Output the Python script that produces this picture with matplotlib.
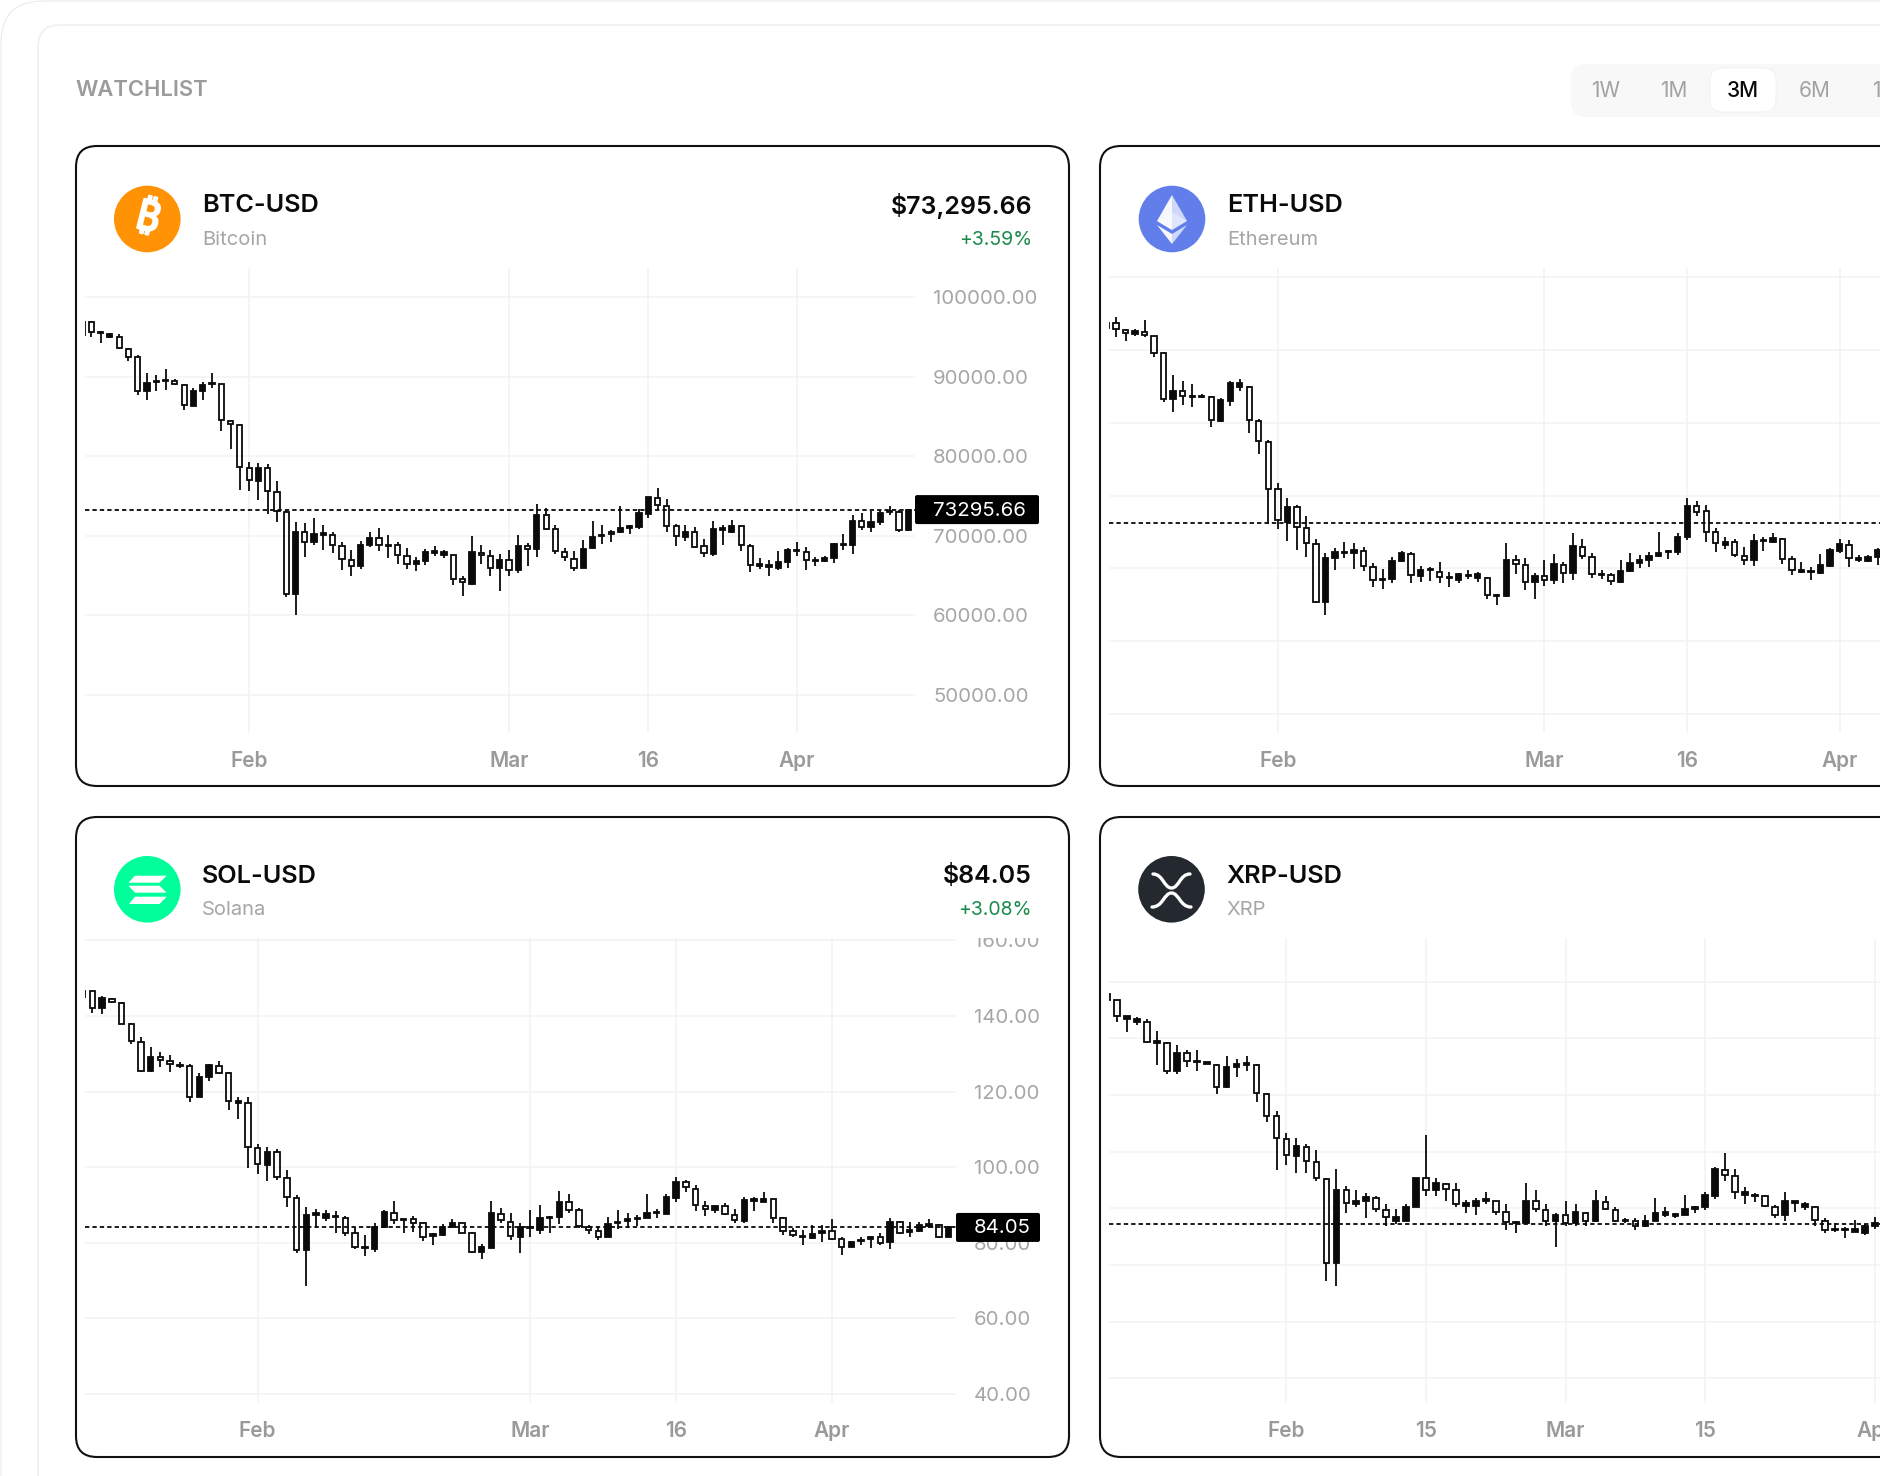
"""Crypto watchlist dashboard with four candlestick cards"""

import numpy as np
import matplotlib
matplotlib.use("Agg")
import matplotlib.pyplot as plt
import matplotlib.patheffects as pe
from matplotlib.patches import Circle, FancyBboxPatch, PathPatch, Polygon
from matplotlib.path import Path
from matplotlib.transforms import Bbox

plt.rcParams['font.family'] = ['Inter', 'DejaVu Sans']

W, H = 1880, 1476

# BTC-USD daily candles
btc_open = [96940,96860,95475,95056,95056,93506,92500,88226,89358,89441,89483,89022,86383,88226,89064,89106,84455,83994,78547,76955,
            78547,75531,72975,62709,70419,69162,70125,70084,68701,66941,66145,68785,69706,68743,68868,67402,66480,66857,67863,67527,
            67527,64553,63882,67863,67402,65894,66983,65726,68701,68282,72598,70796,67947,67109,65936,68408,69916,70209,70461,71005,
            71089,72765,74693,73729,71173,69874,70461,68659,67737,70712,70461,71257,68701,66187,66061,65894,66648,68030,67989,66773,
            66857,67234,68785,68827,71802,71047,71718,72975,72975,70670]
btc_high = [96942,97025,95768,95559,95433,93590,92710,90447,90238,90992,89693,89148,88645,89400,90447,89148,84497,84036,79260,79176,
            79092,76871,73268,71676,71592,72220,71383,70461,69162,68240,69287,70461,70963,70042,69204,68408,67276,68324,68659,68156,
            67612,64972,69916,68868,68156,67695,68156,70042,69078,73981,73478,71299,68450,68030,69500,71800,71300,70750,73810,71300,
            73350,74860,75990,74650,71510,71340,71050,69580,71800,71300,72010,71340,68990,67190,66940,68030,68450,69160,68530,67320,
            67400,69080,70250,72640,72850,73060,73270,73690,73270,73400]
btc_low = [95265,95056,94218,94930,93548,91997,87682,87137,88268,88394,88980,85838,86341,87137,88645,83198,80978,75782,75656,74483,
           72765,71718,62332,59986,67318,68785,68240,67863,65642,64972,65810,68575,68030,67192,66480,65810,65516,66354,67402,67151,
           63798,62458,63840,66480,64888,63002,64972,65265,66145,67318,70670,67696,66860,65560,65890,68360,68950,69200,70330,70170,
           70840,72180,73270,70460,68700,69290,68450,67320,67400,68830,70330,68030,65430,65850,64890,65730,65940,67400,65680,66140,
           66730,66520,68240,67700,70670,70420,71380,72640,70500,70630]
btc_close = [95265,95601,95601,95433,93590,92542,88226,89274,89525,89609,89064,86508,88184,89022,89232,84539,84120,78631,77039,78589,
             75614,73142,62667,70419,69246,70209,70293,68785,67025,66187,68827,69706,68785,68868,67527,66438,66857,67905,68030,67905,
             64595,64134,67905,67527,65894,66983,65726,68701,68324,72640,70880,68072,67276,65936,68366,69874,70084,70503,70922,71173,
             72807,74818,73855,71173,69916,70461,68575,67779,70838,70922,71257,68785,66355,66396,66355,66648,68156,68198,66941,66983,
             67234,68994,68953,71843,71089,71760,72891,73142,70712,73295.66]

# ETH-USD daily candles, last candles run off the canvas
eth_open = [3683,3683,3637,3610,3626,3596,3477,3161,3216,3179,3179,3179,3012,3149,3246,3248,3014,2868,2543,2321,
            2424,2277,2170,1767,2069,2103,2103,2122,2012,1923,1925,2051,2101,1948,1987,1977,1934,1920,1950,1932,
            1936,1808,1810,2055,2025,1904,1947,1918,2025,1970,2149,2080,1957,1954,1909,1982,2034,2057,2082,2112,
            2115,2213,2430,2394,2247,2163,2179,2087,2055,2188,2183,2204,2064,1977,1973,1966,2018,2117,2160,2060,
            2053,2078]
eth_high = [3683,3724,3642,3642,3706,3598,3488,3328,3287,3264,3198,3184,3168,3287,3298,3255,3024,2882,2586,2483,
            2438,2360,2204,2103,2138,2179,2174,2145,2035,1993,2076,2122,2115,2016,2007,2042,1977,1971,1989,1973,
            1943,1824,2172,2094,2069,1966,2057,2096,2046,2243,2199,2108,1989,1966,2057,2103,2094,2110,2250,2124,
            2245,2481,2465,2433,2279,2213,2204,2144,2236,2213,2245,2206,2085,2041,2012,2096,2140,2199,2195,2094,
            2094,2137]
eth_low = [3648,3591,3559,3596,3591,3449,3145,3076,3120,3108,3168,2973,3008,3113,3218,2932,2785,2305,2270,2188,
           2126,2080,1765,1678,1987,2074,1998,1980,1874,1858,1897,2044,1902,1909,1916,1897,1872,1897,1929,1909,
           1790,1746,1801,1963,1854,1789,1879,1892,1902,1922,2066,1936,1925,1886,1902,1977,2000,2012,2080,2066,
           2094,2195,2362,2183,2112,2135,2080,2023,2016,2119,2176,2032,1954,1966,1918,1961,2007,2103,2012,2044,
           2046,2021]
eth_close = [3648,3644,3614,3630,3600,3477,3161,3218,3181,3186,3186,3019,3154,3271,3271,3019,2872,2547,2335,2424,
             2284,2174,1769,2069,2110,2115,2129,2014,1920,1929,2051,2103,1952,1989,1993,1941,1943,1959,1957,1961,
             1815,1815,2060,2028,1908,1950,1922,2028,1970,2153,2085,1963,1963,1915,1979,2039,2057,2085,2108,2121,
             2213,2430,2389,2252,2172,2181,2089,2060,2185,2197,2206,2066,1986,1986,1982,2021,2124,2167,2069,2069,
             2078,2126]

# SOL-USD daily candles
sol_open = [146.6,146.6,142.0,144.6,143.5,137.9,133.2,125.4,129.1,128.0,126.8,126.8,118.5,123.9,126.8,124.8,117.1,117.0,105.1,100.7,
            104.1,97.2,91.9,78.1,87.4,86.6,86.7,86.5,82.7,78.6,78.3,84.2,87.9,86.0,86.3,85.1,81.8,82.0,84.2,85.1,
            82.7,77.6,78.7,87.7,85.5,81.6,83.8,83.5,86.55,86.9,90.7,88.65,84.2,83.0,81.5,85.15,85.8,86.2,86.55,87.95,
            87.7,91.9,96.0,94.25,89.7,88.7,89.8,87.3,85.7,91.1,90.75,91.45,86.5,83.0,81.5,81.3,82.6,83.05,81.05,79.0,
            80.4,81.05,81.55,80.1,85.4,82.8,83.1,84.55,84.6,81.5]
sol_high = [146.6,146.7,145.3,144.7,143.8,138.1,134.4,131.9,130.4,129.7,127.7,127.2,124.8,127.3,128.0,125.2,118.6,118.5,106.1,105.4,
            104.7,99.3,92.7,89.4,88.8,88.7,88.3,87.1,84.2,82.0,85.3,88.7,91.1,86.4,87.1,85.6,82.5,84.9,86.4,85.3,
            82.8,79.6,91.1,89.1,87.9,85.2,88.6,89.9,87.2,93.7,92.8,89.1,84.7,84.3,86.9,88.6,87.8,87.3,92.8,88.8,
            93.0,97.3,96.7,95.4,91.0,90.0,90.6,88.8,92.0,92.0,93.3,91.7,86.9,84.0,83.4,84.7,84.6,86.2,81.5,80.4,
            81.5,81.8,82.5,86.6,85.8,85.6,85.6,86.2,85.0,84.3]
sol_low = [145.1,140.8,140.4,143.5,137.9,132.7,125.3,125.3,126.6,125.1,126.3,117.2,118.5,122.9,124.6,115.1,112.7,99.8,98.3,96.3,
           96.5,89.4,77.4,68.5,84.0,85.8,82.6,81.8,78.4,76.6,77.5,84.0,84.9,82.5,82.9,80.4,79.5,81.7,84.0,82.5,
           77.2,75.8,78.5,85.3,80.8,77.3,81.6,82.3,82.7,85.0,87.8,83.8,82.3,80.6,81.4,83.6,84.0,84.5,86.5,86.5,
           87.5,90.8,93.3,88.5,87.1,88.0,87.3,85.2,85.1,88.3,90.7,85.3,82.0,81.6,79.5,81.1,80.1,80.8,76.7,78.9,
           79.3,78.5,79.5,78.3,82.3,81.5,82.9,83.8,81.3,81.4]
sol_close = [145.1,142.2,144.7,143.6,138.0,133.3,125.4,129.1,128.3,127.2,127.1,118.6,123.9,126.9,125.0,117.5,117.4,105.3,100.9,104.1,
             97.3,92.1,78.1,87.3,87.8,87.7,87.1,82.7,79.0,79.0,84.2,88.1,85.9,86.4,85.1,81.6,82.2,84.2,85.1,82.7,
             77.5,78.8,87.8,85.9,81.7,84.2,84.2,86.5,86.9,90.75,88.65,84.4,83.3,81.6,84.9,85.6,86.2,86.5,88.0,88.2,
             92.0,96.2,94.7,90.1,88.9,89.7,87.5,85.9,91.4,91.45,91.45,86.55,83.2,82.0,81.9,82.3,83.0,81.1,79.0,80.25,
             80.8,81.65,80.0,85.4,82.5,83.4,84.6,84.9,81.5,84.05]

# XRP-USD daily candles, last candles run off the canvas
xrp_open = [2.155,2.134,2.067,2.057,2.057,1.985,1.985,1.884,1.947,1.915,1.909,1.907,1.827,1.898,1.906,1.907,1.805,1.725,1.646,1.586,
            1.618,1.565,1.505,1.208,1.464,1.414,1.425,1.435,1.395,1.356,1.356,1.406,1.506,1.465,1.486,1.464,1.409,1.408,1.425,1.425,
            1.386,1.347,1.348,1.425,1.394,1.357,1.375,1.347,1.385,1.355,1.424,1.395,1.355,1.357,1.338,1.357,1.377,1.373,1.377,1.397,
            1.405,1.444,1.535,1.515,1.447,1.442,1.444,1.404,1.375,1.418,1.404,1.405,1.357,1.325,1.324,1.317,1.313,1.339]
xrp_high = [2.155,2.135,2.079,2.076,2.067,2.026,1.986,1.977,1.957,1.958,1.916,1.909,1.938,1.928,1.938,1.909,1.806,1.745,1.667,1.647,
            1.627,1.606,1.506,1.538,1.479,1.465,1.455,1.444,1.415,1.396,1.415,1.507,1.658,1.507,1.491,1.488,1.429,1.435,1.458,1.427,
            1.415,1.356,1.488,1.465,1.415,1.385,1.427,1.415,1.386,1.465,1.444,1.406,1.366,1.365,1.378,1.435,1.406,1.385,1.446,1.407,
            1.456,1.547,1.597,1.538,1.476,1.455,1.446,1.411,1.458,1.426,1.424,1.407,1.367,1.349,1.335,1.359,1.344,1.368]
xrp_low = [2.135,2.057,2.024,2.047,1.985,1.907,1.873,1.873,1.897,1.885,1.908,1.805,1.826,1.865,1.885,1.776,1.705,1.535,1.553,1.526,
           1.526,1.497,1.145,1.126,1.385,1.404,1.366,1.386,1.338,1.344,1.354,1.405,1.445,1.445,1.425,1.406,1.385,1.375,1.415,1.376,
           1.324,1.314,1.345,1.386,1.336,1.265,1.338,1.338,1.338,1.353,1.394,1.353,1.347,1.325,1.335,1.354,1.368,1.366,1.375,1.385,
           1.395,1.434,1.497,1.434,1.415,1.424,1.406,1.367,1.357,1.386,1.394,1.338,1.314,1.316,1.294,1.315,1.305,1.328]
xrp_close = [2.135,2.079,2.078,2.067,1.987,1.989,1.886,1.947,1.919,1.920,1.916,1.828,1.898,1.908,1.912,1.808,1.726,1.649,1.587,1.619,
             1.567,1.508,1.208,1.465,1.418,1.427,1.439,1.396,1.368,1.368,1.406,1.506,1.466,1.491,1.467,1.415,1.420,1.426,1.432,1.386,
             1.351,1.351,1.426,1.397,1.357,1.377,1.349,1.386,1.357,1.426,1.399,1.357,1.360,1.339,1.357,1.385,1.387,1.380,1.397,1.405,
             1.446,1.538,1.518,1.457,1.457,1.447,1.407,1.377,1.427,1.425,1.415,1.359,1.325,1.328,1.327,1.326,1.336,1.347]

# Last prices for the dashed line
btc_last = 73295.66
eth_last = 2310
sol_last = 84.05
xrp_last = 1.346

# Axis ticks
btc_yticks = [100000, 90000, 80000, 70000, 60000, 50000]
eth_yticks = [4000, 3500, 3000, 2500, 2000, 1500, 1000]
sol_yticks = [160, 140, 120, 100, 80, 60, 40]
xrp_yticks = [2.2, 2.0, 1.8, 1.6, 1.4, 1.2, 1.0, 0.8]
month_ticks = [18, 46, 61, 77]
month_labels = ["Feb", "Mar", "16", "Apr"]
xrp_ticks = [18, 32, 46, 60, 77]
xrp_labels = ["Feb", "15", "Mar", "15", "Apr"]

range_labels = ["1W", "1M", "3M", "6M", "1Y"]

BLACK = "#0a0a0a"
GREY = "#a6a6a6"
GRID = "#f3f3f3"

fig = plt.figure(figsize=(W / 100, H / 100), dpi=100, facecolor="white")

# Pixel space axes behind and above the charts
back = fig.add_axes([0, 0, 1, 1], zorder=0)
back.set_xlim(0, W)
back.set_ylim(H, 0)
back.axis("off")
front = fig.add_axes([0, 0, 1, 1], zorder=2)
front.set_xlim(0, W)
front.set_ylim(H, 0)
front.axis("off")


def round_box(ax, x0, y0, x1, y1, r, **kw):
    box = FancyBboxPatch((x0 + r, y0 + r), x1 - x0 - 2 * r, y1 - y0 - 2 * r,
                         boxstyle=f"round,pad={r},rounding_size={r}", **kw)
    ax.add_patch(box)
    return box


def add_chart(left, right, top, bottom, xlim, ylim, yticks, xticks, xlabels, fmt, opens, highs, lows, closes, last):
    ax = fig.add_axes([left / W, 1 - bottom / H, (right - left) / W, (bottom - top) / H], zorder=1)
    ax.patch.set_alpha(0)
    for spine in ax.spines.values():
        spine.set_visible(False)
    ax.set_xlim(*xlim)
    ax.set_ylim(*ylim)
    ax.grid(True, color=GRID, linewidth=1.1)
    ax.set_axisbelow(True)

    ax.set_yticks(yticks)
    ax.yaxis.tick_right()
    if fmt:
        ax.set_yticklabels([fmt.format(v) for v in yticks])
    else:
        ax.tick_params(axis="y", labelright=False)
    ax.tick_params(axis="y", length=0, pad=13, labelsize=14.7, labelcolor=GREY)
    ax.set_xticks(xticks)
    ax.set_xticklabels(xlabels, fontweight="semibold")
    ax.tick_params(axis="x", length=0, pad=13, labelsize=15, labelcolor="#9a9a9a")
    # the top label is cut by the edge of the pane
    for label in ax.get_yticklabels():
        label.set_clip_box(Bbox.from_extents(0, 0, W, H - top))
        label.set_clip_on(True)

    ax.axhline(last, color=BLACK, linewidth=1.3, linestyle=(0, (2.4, 1.7)), zorder=1.5)

    opens, highs, lows, closes = map(np.asarray, (opens, highs, lows, closes))
    x = np.arange(len(opens))
    body_top = np.maximum(opens, closes)
    body_bot = np.minimum(opens, closes)
    ax.vlines(x, body_top, highs, color=BLACK, linewidth=1.3, zorder=3)
    ax.vlines(x, lows, body_bot, color=BLACK, linewidth=1.3, zorder=3)
    colors = [BLACK if c >= o else "none" for o, c in zip(opens, closes)]
    ax.bar(x, body_top - body_bot, bottom=body_bot, width=0.56, color=colors,
           edgecolor=BLACK, linewidth=1.3, zorder=3)
    return ax


# Outer frames
round_box(back, 1, 1, W + 80, H + 80, 42, facecolor="white", edgecolor="#e4e4e4", linewidth=0.6)
round_box(back, 38, 25, W + 60, H + 60, 22, facecolor="white", edgecolor="#f1f1f1", linewidth=1.4)
back.text(75.5, 90.5, "WATCHLIST", color="#9b9b9b", fontsize=15.8, fontweight="semibold", va="center", ha="left")

# Range selector
round_box(back, 1571, 64, W + 40, 117, 14, facecolor="#f8f8f8", edgecolor="none")
round_box(back, 1710, 68, 1776, 112, 13, facecolor="white", edgecolor="#f0f0f0", linewidth=0.6)
for label, cx in zip(range_labels, [1605.5, 1674, 1743, 1815, 1883]):
    back.text(cx, 91, label, fontsize=15, ha="center", va="center",
              color=BLACK if label == "3M" else "#a2a2a2", fontweight="medium" if label == "3M" else "normal")

# Cards
for x0, x1, y0, y1 in [(76, 1069, 146, 786), (1100, W + 60, 146, 786), (76, 1069, 817, 1457), (1100, W + 60, 817, 1457)]:
    round_box(back, x0, y0, x1, y1, 21, facecolor="white", edgecolor="#111111", linewidth=1.5)


def header(cx, cy, color, name, full, price=None, change=None):
    back.add_patch(Circle((cx, cy), 33.3, facecolor=color, edgecolor="none"))
    back.text(cx + 55, cy - 13, name, fontsize=18.2, fontweight="semibold", color=BLACK, va="center", ha="left")
    back.text(cx + 55, cy + 21, full, fontsize=14.5, color=GREY, va="center", ha="left")
    if price:
        back.text(1032, cy - 13, price, fontsize=18, fontweight="semibold", color=BLACK, va="center", ha="right")
        back.text(1032, cy + 21, change, fontsize=14, color="#1a8a4c", va="center", ha="right")


header(147.3, 219, "#ff9205", "BTC-USD", "Bitcoin", "$73,295.66", "+3.59%")
header(1172, 219, "#627eea", "ETH-USD", "Ethereum")
header(147.3, 889.3, "#00ff9b", "SOL-USD", "Solana", "$84.05", "+3.08%")
header(1171.5, 889.3, "#23292f", "XRP-USD", "XRP")

# Coin logos
back.text(147.5, 219, "\u20bf", fontsize=30, fontweight="bold",
          family=["Noto Sans", "Roboto", "Open Sans", "Lato", "Liberation Sans", "DejaVu Sans"], color="white",
          ha="center", va="center", rotation=-14,
          path_effects=[pe.withStroke(linewidth=1.6, foreground="white")])

eth_facets = [([(1172, 195), (1157, 221), (1172, 230)], 0.95),
              ([(1172, 195), (1187, 221), (1172, 230)], 0.7),
              ([(1172, 212), (1157, 221), (1172, 230), (1187, 221)], 0.35),
              ([(1157, 225), (1172, 234), (1172, 244)], 0.95),
              ([(1187, 225), (1172, 234), (1172, 244)], 0.7)]
for pts, alpha in eth_facets:
    back.add_patch(Polygon(pts, closed=True, facecolor="white", edgecolor="none", alpha=alpha))

for pts in [[(135, 875.7), (166.7, 875.7), (159.5, 882.7), (128.5, 882.7)],
            [(128.5, 885.7), (159.5, 885.7), (166.7, 892.7), (135, 892.7)],
            [(135, 896.7), (166.7, 896.7), (159.5, 904), (129, 904)]]:
    back.add_patch(Polygon(pts, closed=True, facecolor="white", edgecolor="none"))

for verts in [[(1153, 874), (1163, 874), (1164, 888), (1171.5, 888), (1179, 888), (1180, 874), (1190, 874)],
              [(1152, 907), (1163, 907), (1164, 893), (1171.5, 893), (1179, 893), (1180, 907), (1191, 907)]]:
    codes = [Path.MOVETO, Path.CURVE4, Path.CURVE4, Path.CURVE4, Path.CURVE4, Path.CURVE4, Path.CURVE4]
    back.add_patch(PathPatch(Path(verts, codes), facecolor="none", edgecolor="white", linewidth=2.4, capstyle="round"))

# Charts
btc_ax = add_chart(85, 915, 268, 733, (0.323, 89.73), (45195, 103686), btc_yticks, month_ticks, month_labels, "{:.2f}",
                   btc_open, btc_high, btc_low, btc_close, btc_last)
eth_ax = add_chart(1109, W, 268, 733, (0.263, 81.25), (870, 4063), eth_yticks, month_ticks, month_labels, None,
                   eth_open, eth_high, eth_low, eth_close, eth_last)
sol_ax = add_chart(85, 956, 938, 1403, (0.247, 89.76), (37.6, 160.63), sol_yticks, month_ticks, month_labels, "{:.2f}",
                   sol_open, sol_high, sol_low, sol_close, sol_last)
xrp_ax = add_chart(1109, W, 938, 1403, (0.2, 77.53), (0.713, 2.354), xrp_yticks, xrp_ticks, xrp_labels, None,
                   xrp_open, xrp_high, xrp_low, xrp_close, xrp_last)


def price_tag(ax, last, x0, x1, text_x):
    y = H - ax.transData.transform((0, last))[1]
    round_box(front, x0, y - 14.5, x1, y + 14.5, 2, facecolor="black", edgecolor="none")
    front.text(text_x, y + 1, f"{last:.2f}", color="white", fontsize=14.7, ha="left", va="center")


price_tag(btc_ax, btc_last, 915, 1039, 933)
price_tag(sol_ax, sol_last, 956, 1040, 974)

fig.savefig("out.png", dpi=100)
